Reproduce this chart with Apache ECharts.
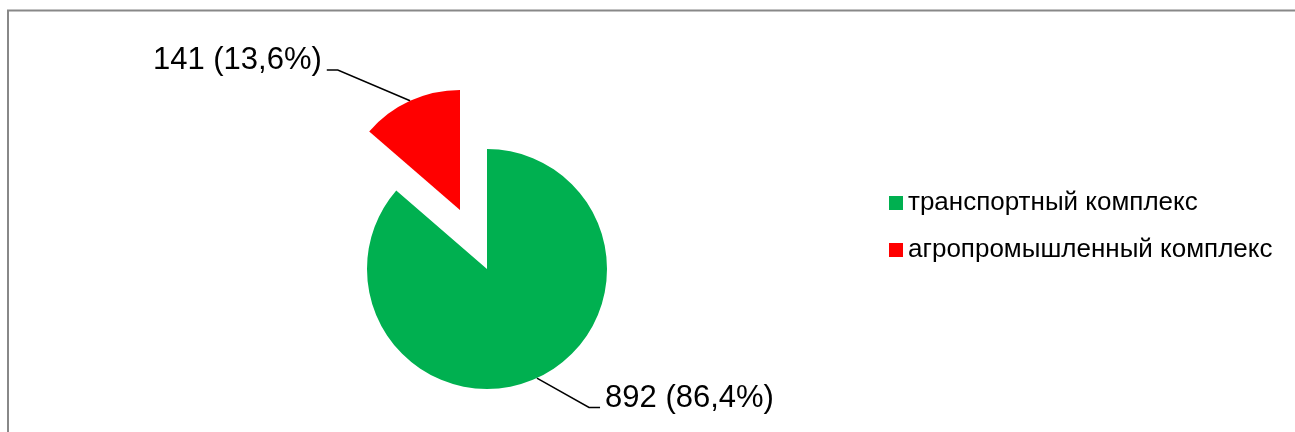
<!DOCTYPE html>
<html>
<head>
<meta charset="utf-8">
<script src="https://cdn.jsdelivr.net/npm/echarts@6/dist/echarts.min.js"></script>
<style>
html, body { margin: 0; padding: 0; background: #fff; }
#main { width: 1295px; height: 432px; }
</style>
</head>
<body>
<div id="main"></div>
<script>
// данные
var categories = ['транспортный комплекс', 'агропромышленный комплекс'];
var values = [892, 141];
var colors = ['#00B050', '#FF0000'];

var total = values[0] + values[1];
var chart = echarts.init(document.getElementById('main'));

var option = {
	animation: false,
	graphic: [{
		type: 'rect',
		shape: { x: 8, y: 10.5, width: 1400, height: 600 },
		style: { fill: 'none', stroke: '#888888', lineWidth: 2 },
		silent: true
	}],
	legend: {
		orient: 'vertical',
		left: 884,
		top: 185,
		icon: 'rect',
		itemWidth: 14,
		itemHeight: 14,
		itemGap: 21,
		selectedMode: false,
		data: categories,
		textStyle: {
			color: '#000000',
			fontSize: 26,
			lineHeight: 26,
			fontFamily: 'Arial, "Liberation Sans", sans-serif'
		}
	},
	series: [{
		type: 'pie',
		center: [487, 269],
		radius: 120,
		startAngle: 90,
		clockwise: true,
		selectedMode: 'single',
		selectedOffset: 65,
		avoidLabelOverlap: false,
		emphasis: { disabled: true },
		label: {
			show: true,
			position: 'outside',
			color: '#000000',
			fontSize: 31,
			fontFamily: 'Arial, "Liberation Sans", sans-serif',
			formatter: function (p) {
				var pct = (p.value / total * 100).toFixed(1).replace('.', ',');
				return p.value + ' (' + pct + '%)';
			}
		},
		labelLine: {
			show: true,
			lineStyle: { color: '#000000', width: 1.5 }
		},
		labelLayout: function (params) {
			// линия выноски как в Excel: наклонная к подписи + короткий горизонтальный участок
			var pts = params.labelLinePoints;
			if (!pts) return {};
			var r = params.labelRect;
			var yLine = r.y + r.height * 0.8;
			var endX = pts[2][0];
			var dir = pts[2][0] > pts[0][0] ? -1 : 1;
			return {
				labelLinePoints: [pts[0], [endX + dir * 11, yLine], [endX, yLine]]
			};
		},
		data: [{
			name: categories[0],
			value: values[0],
			itemStyle: { color: colors[0] },
			labelLine: { length: 22, length2: 54 }
		}, {
			name: categories[1],
			value: values[1],
			selected: true,
			itemStyle: { color: colors[1] },
			labelLine: { length: 44, length2: 65 }
		}]
	}]
};

chart.setOption(option);
window.addEventListener('resize', function () {
	chart.resize();
});
</script>
</body>
</html>
